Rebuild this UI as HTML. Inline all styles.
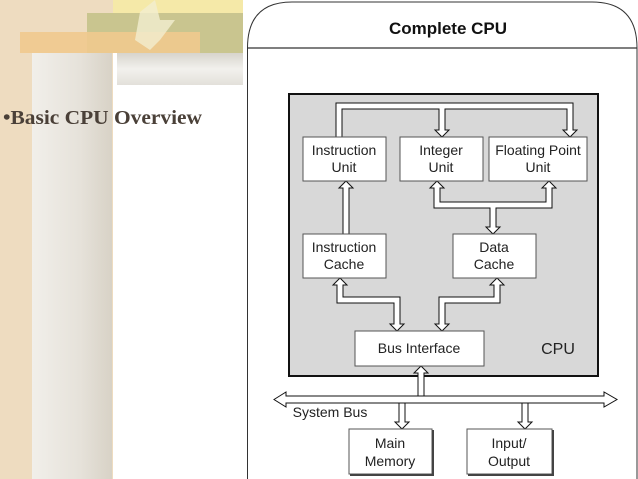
<!DOCTYPE html>
<html><head><style>
html,body{margin:0;padding:0;width:638px;height:479px;overflow:hidden;background:#fff}
svg{display:block}
</style></head><body>
<svg width="638" height="479" viewBox="0 0 638 479" xmlns="http://www.w3.org/2000/svg" font-family="Liberation Sans, sans-serif">
<defs>
<linearGradient id="pil" x1="0" x2="1"><stop offset="0" stop-color="#f1efea"/><stop offset="0.6" stop-color="#e6e2da"/><stop offset="1" stop-color="#d8d2c6"/></linearGradient>
<linearGradient id="gb" x1="0" y1="0" x2="0" y2="1"><stop offset="0" stop-color="#d7d4cc"/><stop offset="0.5" stop-color="#f2f1ed"/><stop offset="1" stop-color="#e3e0da"/></linearGradient>
</defs>
<rect x="0" y="0" width="113" height="479" fill="#eedcc0"/>
<rect x="32" y="53" width="80" height="426" fill="url(#pil)"/>
<rect x="113" y="0" width="130" height="14" fill="#f5e9a8"/>
<rect x="87" y="13" width="156" height="40" fill="#c9c58f"/>
<rect x="20" y="32" width="180" height="21" fill="#efc98e" opacity="0.9"/>
<polygon points="140,12 155,0 160,20 175,20 160,40 150,50 135,40" fill="#f3eed0" opacity="0.8"/>
<rect x="117" y="53" width="126" height="32" fill="url(#gb)"/>
<text x="3" y="124" font-family="Liberation Serif, serif" font-weight="bold" font-size="20" fill="#4a4038" textLength="199" lengthAdjust="spacingAndGlyphs">•Basic CPU Overview</text>
<path d="M247.5,479 V48 Q247.5,2 292,2 H592 Q637,2 637,48 V479" fill="#fff" stroke="#333" stroke-width="1"/>
<line x1="247" y1="48" x2="637" y2="48" stroke="#333" stroke-width="1.2"/>
<text x="448" y="34" text-anchor="middle" font-weight="bold" font-size="17" fill="#111">Complete CPU</text>
<rect x="289" y="94" width="309" height="282" fill="#d8d8d8" stroke="#111" stroke-width="2"/>
<g fill="#fff" stroke="#111" stroke-width="1">
<path d="M336,137 V103 H573 V130 H577 L570,137 L563,130 H567 V109 H445 V130 H449 L442,137 L435,130 H439 V109 H342 V137 Z"/>
<path d="M343,234 V188 H339 L346,181 L353,188 H349 V234 Z"/>
<path d="M434,188 H430 L437,181 L444,188 H440 V202 H546 V188 H542 L549,181 L556,188 H552 V208 H496 V227 H500 L493,234 L486,227 H490 V208 H434 Z"/>
<path d="M337,285 H333 L340,278 L347,285 H343 V297 H400 V324 H404 L397,331 L390,324 H394 V303 H337 Z"/>
<path d="M494,285 H490 L497,278 L504,285 H500 V303 H445 V324 H449 L442,331 L435,324 H439 V297 H494 Z"/>
<path d="M418,396 V373 H414 L421,366 L428,373 H424 V396 Z"/>
<path d="M274,399.5 L286,392 V396 H604 V392 L617,399.5 L604,407 V403 H286 V407 Z"/>
<path d="M399,403 V422 H395 L402,429 L409,422 H405 V403 Z"/>
<path d="M522,403 V422 H518 L525,429 L532,422 H528 V403 Z"/>
</g>
<g stroke="#555" stroke-width="1" fill="#fff">
<rect x="303" y="137" width="83" height="44"/>
<rect x="400" y="137" width="83" height="44"/>
<rect x="489" y="137" width="98" height="44"/>
<rect x="303" y="234" width="83" height="44"/>
<rect x="453" y="234" width="83" height="44"/>
<rect x="355" y="331" width="129" height="35"/>
<rect x="349" y="429" width="83" height="45"/>
<rect x="467" y="429" width="85" height="45"/>
</g>
<g stroke="#444" stroke-width="2" fill="none">
<path d="M433,430 V475 H350"/>
<path d="M553,430 V475 H468"/>
</g>
<g font-size="14" fill="#222" text-anchor="middle">
<text x="344" y="155">Instruction</text><text x="344" y="172">Unit</text>
<text x="441" y="155">Integer</text><text x="441" y="172">Unit</text>
<text x="538" y="155">Floating Point</text><text x="538" y="172">Unit</text>
<text x="344" y="252">Instruction</text><text x="344" y="269">Cache</text>
<text x="494" y="252">Data</text><text x="494" y="269">Cache</text>
<text x="419" y="353">Bus Interface</text>
<text x="558" y="354" font-size="16">CPU</text>
<text x="330" y="417">System Bus</text>
<text x="390" y="448">Main</text><text x="390" y="466">Memory</text>
<text x="509" y="448">Input/</text><text x="509" y="466">Output</text>
</g>
</svg>
</body></html>
